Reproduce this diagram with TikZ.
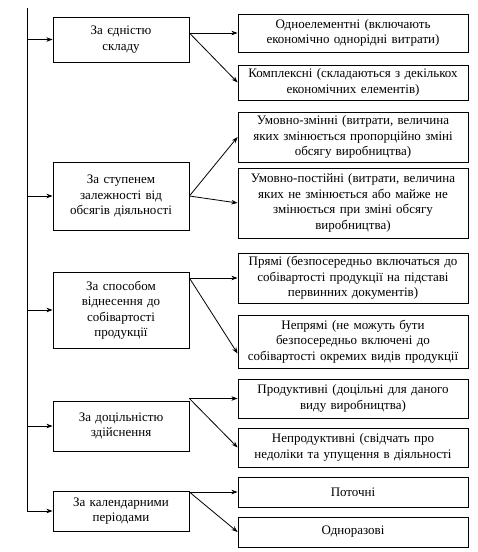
\documentclass[tikz,border=0pt]{standalone}
\usepackage{fontspec}
\setmainfont{Liberation Serif}
\usepackage{tikz}
\usetikzlibrary{positioning,arrows.meta}
\tikzset{
  catbox/.style={draw, thick, fill=white, align=center, text width=132pt,
    inner sep=2pt, font=\fontsize{13}{15.5}\selectfont},
  typebox/.style={draw, thick, fill=white, align=center, text width=226pt,
    inner sep=2pt, font=\fontsize{13}{15.5}\selectfont},
  arrow/.style={-{Stealth[length=2.2mm, width=1.6mm]}, thick}
}
\begin{document}
\begin{tikzpicture}[x=1pt, y=1pt]
  \useasboundingbox[fill=white] (0,0) rectangle (478,-552);

  % Ознаки класифікації
  \node (cat1) [catbox, minimum height=45pt] at (121,-39.5) {За єдністю\\складу};
  \node (cat2) [catbox, minimum height=68pt] at (121,-196) {За ступенем\\залежності від\\обсягів діяльності};
  \node (cat3) [catbox, minimum height=76pt] at (121,-310) {За способом\\віднесення до\\собівартості\\продукції};
  \node (cat4) [catbox, minimum height=50pt] at (121,-426) {За доцільністю\\здійснення};
  \node (cat5) [catbox, minimum height=40pt] at (121,-511) {За календарними\\періодами};

  % Види витрат
  \node (t1a) [typebox, minimum height=38pt] at (353,-33) {Одноелементні (включають\\економічно однорідні витрати)};
  \node (t1b) [typebox, minimum height=35pt] at (353,-82.5) {Комплексні (складаються з декількох\\економічних елементів)};
  \node (t2a) [typebox, minimum height=50pt] at (353,-137) {Умовно-змінні (витрати, величина\\яких змінюється пропорційно зміні\\обсягу виробництва)};
  \node (t2b) [typebox, minimum height=70pt] at (353,-203) {Умовно-постійні (витрати, величина\\яких не змінюється або майже не\\змінюється при зміні обсягу\\виробництва)};
  \node (t3a) [typebox, minimum height=50pt] at (353,-278) {Прямі (безпосередньо включаться до\\собівартості продукції на підставі\\первинних документів)};
  \node (t3b) [typebox, minimum height=53pt] at (353,-341.5) {Непрямі (не можуть бути\\безпосередньо включені до\\собівартості окремих видів продукції};
  \node (t4a) [typebox, minimum height=39pt] at (353,-398.5) {Продуктивні (доцільні для даного\\виду виробництва)};
  \node (t4b) [typebox, minimum height=39pt] at (353,-447.5) {Непродуктивні (свідчать про\\недоліки та упущення в діяльності};
  \node (t5a) [typebox, minimum height=30pt] at (353,-492) {Поточні};
  \node (t5b) [typebox, minimum height=30pt] at (353,-532) {Одноразові};

  % Вертикальна лінія
  \coordinate (trunk) at (27,-8);
  \draw[arrow] (trunk) |- (cat5.west);
  \draw[arrow] (trunk |- cat1.west) -- (cat1.west);
  \draw[arrow] (trunk |- cat2.west) -- (cat2.west);
  \draw[arrow] (trunk |- cat3.west) -- (cat3.west);
  \draw[arrow] (trunk |- cat4.west) -- (cat4.west);

  % Стрілки до видів
  \draw[arrow] (cat1.east |- t1a.west) -- (t1a.west);
  \draw[arrow] (cat1.east |- t1a.west) -- (t1b.west);
  \draw[arrow] (cat2.east) -- (t2a.west);
  \draw[arrow] (cat2.east) -- (t2b.west);
  \draw[arrow] (cat3.east |- t3a.west) -- (t3a.west);
  \draw[arrow] (cat3.east |- t3a.west) -- ([yshift=-12pt]t3b.west);
  \draw[arrow] (cat4.east |- t4a.west) -- (t4a.west);
  \draw[arrow] (cat4.east |- t4a.west) -- (t4b.west);
  \draw[arrow] (cat5.east |- t5a.west) -- (t5a.west);
  \draw[arrow] (cat5.east |- t5a.west) -- (t5b.west);
\end{tikzpicture}
\end{document}
